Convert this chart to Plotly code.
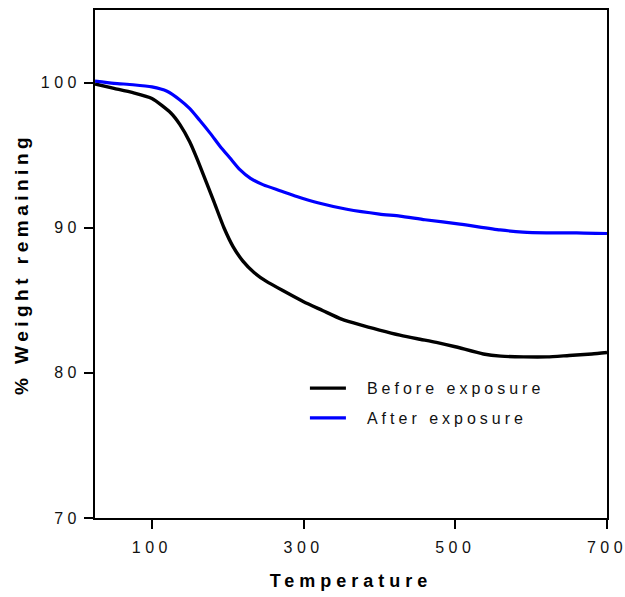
import plotly.graph_objects as go

# Temperature (x) and % weight remaining (y)
temp_before = [25, 50, 75, 100, 125, 137, 150, 163, 181, 195, 207, 220, 235, 251, 275,
               300, 325, 350, 375, 400, 427, 450, 475, 500, 537, 560, 590, 621, 650, 680, 700]
weight_before = [99.9, 99.6, 99.3, 98.9, 97.9, 97.1, 95.9, 94.3, 91.9, 90.0, 88.7, 87.7, 86.9, 86.3, 85.6,
                 84.9, 84.3, 83.7, 83.3, 82.95, 82.6, 82.35, 82.1, 81.8, 81.3, 81.15, 81.1, 81.1, 81.2, 81.3, 81.4]

temp_after = [25, 50, 75, 100, 120, 137, 150, 163, 177, 190, 203, 216, 230, 247, 269,
              291, 320, 357, 400, 427, 460, 506, 559, 589, 620, 660, 700]
weight_after = [100.1, 99.95, 99.85, 99.7, 99.4, 98.8, 98.2, 97.4, 96.5, 95.6, 94.8, 94.0, 93.4, 92.95, 92.55,
                92.15, 91.7, 91.27, 90.94, 90.8, 90.55, 90.25, 89.85, 89.7, 89.65, 89.65, 89.6]

series_names = ["Before exposure", "After exposure"]
x_tick_vals = [100, 300, 500, 700]
y_tick_vals = [70, 80, 90, 100]

FONT = "Liberation Sans, Arial, sans-serif"

fig = go.Figure()
fig.add_trace(go.Scatter(x=temp_before, y=weight_before, mode="lines", name=series_names[0],
                         legendgroup="g1",
                         line=dict(color="#000000", width=3.4, shape="spline", smoothing=0.6)))
fig.add_trace(go.Scatter(x=temp_after, y=weight_after, mode="lines", name=series_names[1],
                         legendgroup="g2",
                         line=dict(color="#0000FF", width=3.2, shape="spline", smoothing=0.6)))

axis_common = dict(showline=True, linecolor="black", linewidth=1.6, mirror=True,
                   ticks="outside", ticklen=9, tickwidth=1.6, tickcolor="black",
                   showgrid=False, zeroline=False,
                   tickfont=dict(family=FONT, size=16, color="#111111"))

fig.update_xaxes(range=[25, 700], tickvals=x_tick_vals, ticklabelstandoff=5, **axis_common,
                 title=dict(text="Temperature", standoff=19,
                            font=dict(family=FONT, size=18, color="#000000", weight="bold")))
fig.update_yaxes(range=[70, 105], tickvals=y_tick_vals, **axis_common,
                 title=dict(text="% Weight remaining", standoff=21,
                            font=dict(family=FONT, size=19, color="#000000", weight="bold")))

fig.update_layout(
    width=625, height=597,
    margin=dict(l=95, r=18, t=10, b=79, autoexpand=False),
    plot_bgcolor="white", paper_bgcolor="white",
    showlegend=True,
    legend=dict(x=0.41, y=0.289, xanchor="left", yanchor="top",
                bgcolor="rgba(0,0,0,0)", borderwidth=0,
                font=dict(family=FONT, size=16, color="#111111"),
                traceorder="grouped", tracegroupgap=6, itemwidth=52),
)

post = """
var gd = document.getElementById('{plot_id}');
function applySpacing(){
  gd.querySelectorAll('.xtick text').forEach(function(t){t.style.letterSpacing='4.5px';});
  gd.querySelectorAll('.ytick text').forEach(function(t){t.style.letterSpacing='4.5px';});
  gd.querySelectorAll('text.xtitle').forEach(function(t){t.style.letterSpacing='5px';});
  gd.querySelectorAll('text.ytitle').forEach(function(t){t.style.letterSpacing='4.5px';});
  gd.querySelectorAll('text.legendtext').forEach(function(t){t.style.letterSpacing='4px';});
  gd.querySelectorAll('.legend .legendlines path').forEach(function(p){p.setAttribute('d','M5,0h36');});
  gd.querySelectorAll('.legend .scrollbox').forEach(function(s){s.removeAttribute('clip-path');});
  gd.querySelectorAll('.legend').forEach(function(s){s.style.overflow='visible';});
}
applySpacing();
gd.on('plotly_afterplot', applySpacing);
"""

fig.write_html("out.html", post_script=post)
